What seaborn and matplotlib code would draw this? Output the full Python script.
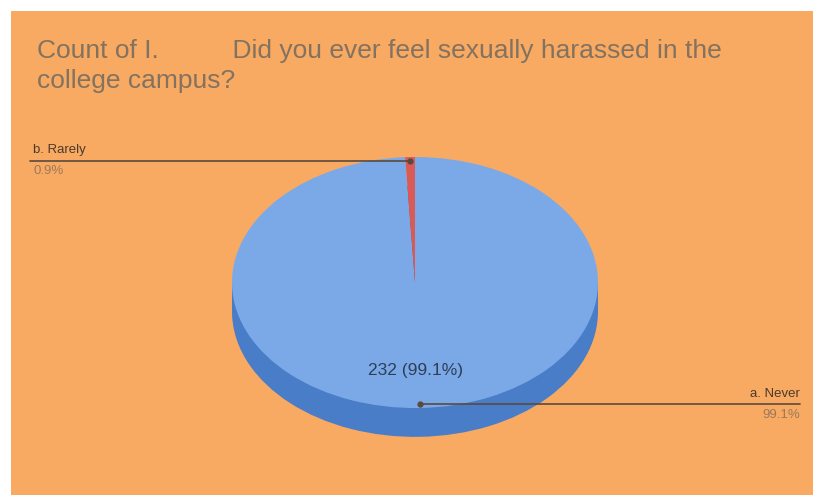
import matplotlib
matplotlib.use("Agg")
import matplotlib.pyplot as plt
import seaborn as sns
import numpy as np
from matplotlib.patches import Rectangle

# Data
categories = ["a. Never", "b. Rarely"]
counts = [232, 2]
top_colors = ["#7BA9E8", "#D95B57"]
side_colors = ["#4A7DC8", "#A8403C"]

title = "Count of I.          Did you ever feel sexually harassed in the\ncollege campus?"

sns.set_theme(style="white")
plt.rcParams['font.family'] = ['Liberation Sans', 'DejaVu Sans']

W, H = 813, 495
fig = plt.figure(figsize=(W / 100, H / 100), dpi=100, facecolor="white")

# orange panel behind everything
bg = fig.add_axes([11 / W, 0, 1 - 11 / W, 1 - 11 / H], zorder=-1)
bg.set_facecolor("#F8AA62")
bg.set_xticks([])
bg.set_yticks([])
for s in bg.spines.values():
    s.set_visible(False)

ax = fig.add_axes([0, 0, 1, 1])
ax.patch.set_alpha(0)

total = sum(counts)
pcts = [c / total * 100 for c in counts]
depth = 0.23

# side of the 3D pie: shifted copy plus a band joining the two faces
ax.pie(counts, colors=side_colors, startangle=90, counterclock=False,
       center=(0, -depth), radius=1, wedgeprops=dict(linewidth=0))
ax.add_patch(Rectangle((-1, -depth), 2, depth, facecolor=side_colors[0],
                       edgecolor="none", zorder=1))
wedges, _ = ax.pie(counts, colors=top_colors, startangle=90, counterclock=False,
                   radius=1, wedgeprops=dict(linewidth=0))
for w in wedges:
    w.set_zorder(3)

# map data units to the reference pixel layout
cx, cy, rx, ry = 415, 282.5, 183, 125.5
ax.set_aspect("auto")
ax.set_xlim(-cx / rx, (W - cx) / rx)
ax.set_ylim(-(H - cy) / ry, cy / ry)
ax.axis("off")

# value label on the big slice
ax.text(0, -0.7, f"{counts[0]} ({pcts[0]:.1f}%)", ha="center", va="center",
        fontsize=12.5, color="#2E3E55", zorder=5)

# leader lines
ends = [(800 - cx) / rx, (30 - cx) / rx]
for w, cat, p, xe in zip(wedges, categories, pcts, ends):
    ang = np.deg2rad((w.theta1 + w.theta2) / 2)
    px, py = 0.97 * np.cos(ang), 0.97 * np.sin(ang)
    ax.plot([px, xe], [py, py], color="#5A4A3C", lw=1.2, zorder=6)
    ax.plot(px, py, "o", ms=3.5, color="#5A4A3C", zorder=6)
    ha = "right" if xe > 0 else "left"
    xt = xe if xe > 0 else xe + 3 / rx
    ax.text(xt, py + 0.035, cat, ha=ha, va="bottom", fontsize=9.5,
            color="#4A3A2C", zorder=6)
    ax.text(xt, py - 0.035, f"{p:.1f}%", ha=ha, va="top", fontsize=9.5,
            color="#9A7A5C", zorder=6)

fig.text(37 / W, 1 - 39 / H, title, ha="left", va="top", fontsize=19,
         color="#837260", linespacing=1.3)

fig.savefig("out.png", dpi=100, facecolor="white")
